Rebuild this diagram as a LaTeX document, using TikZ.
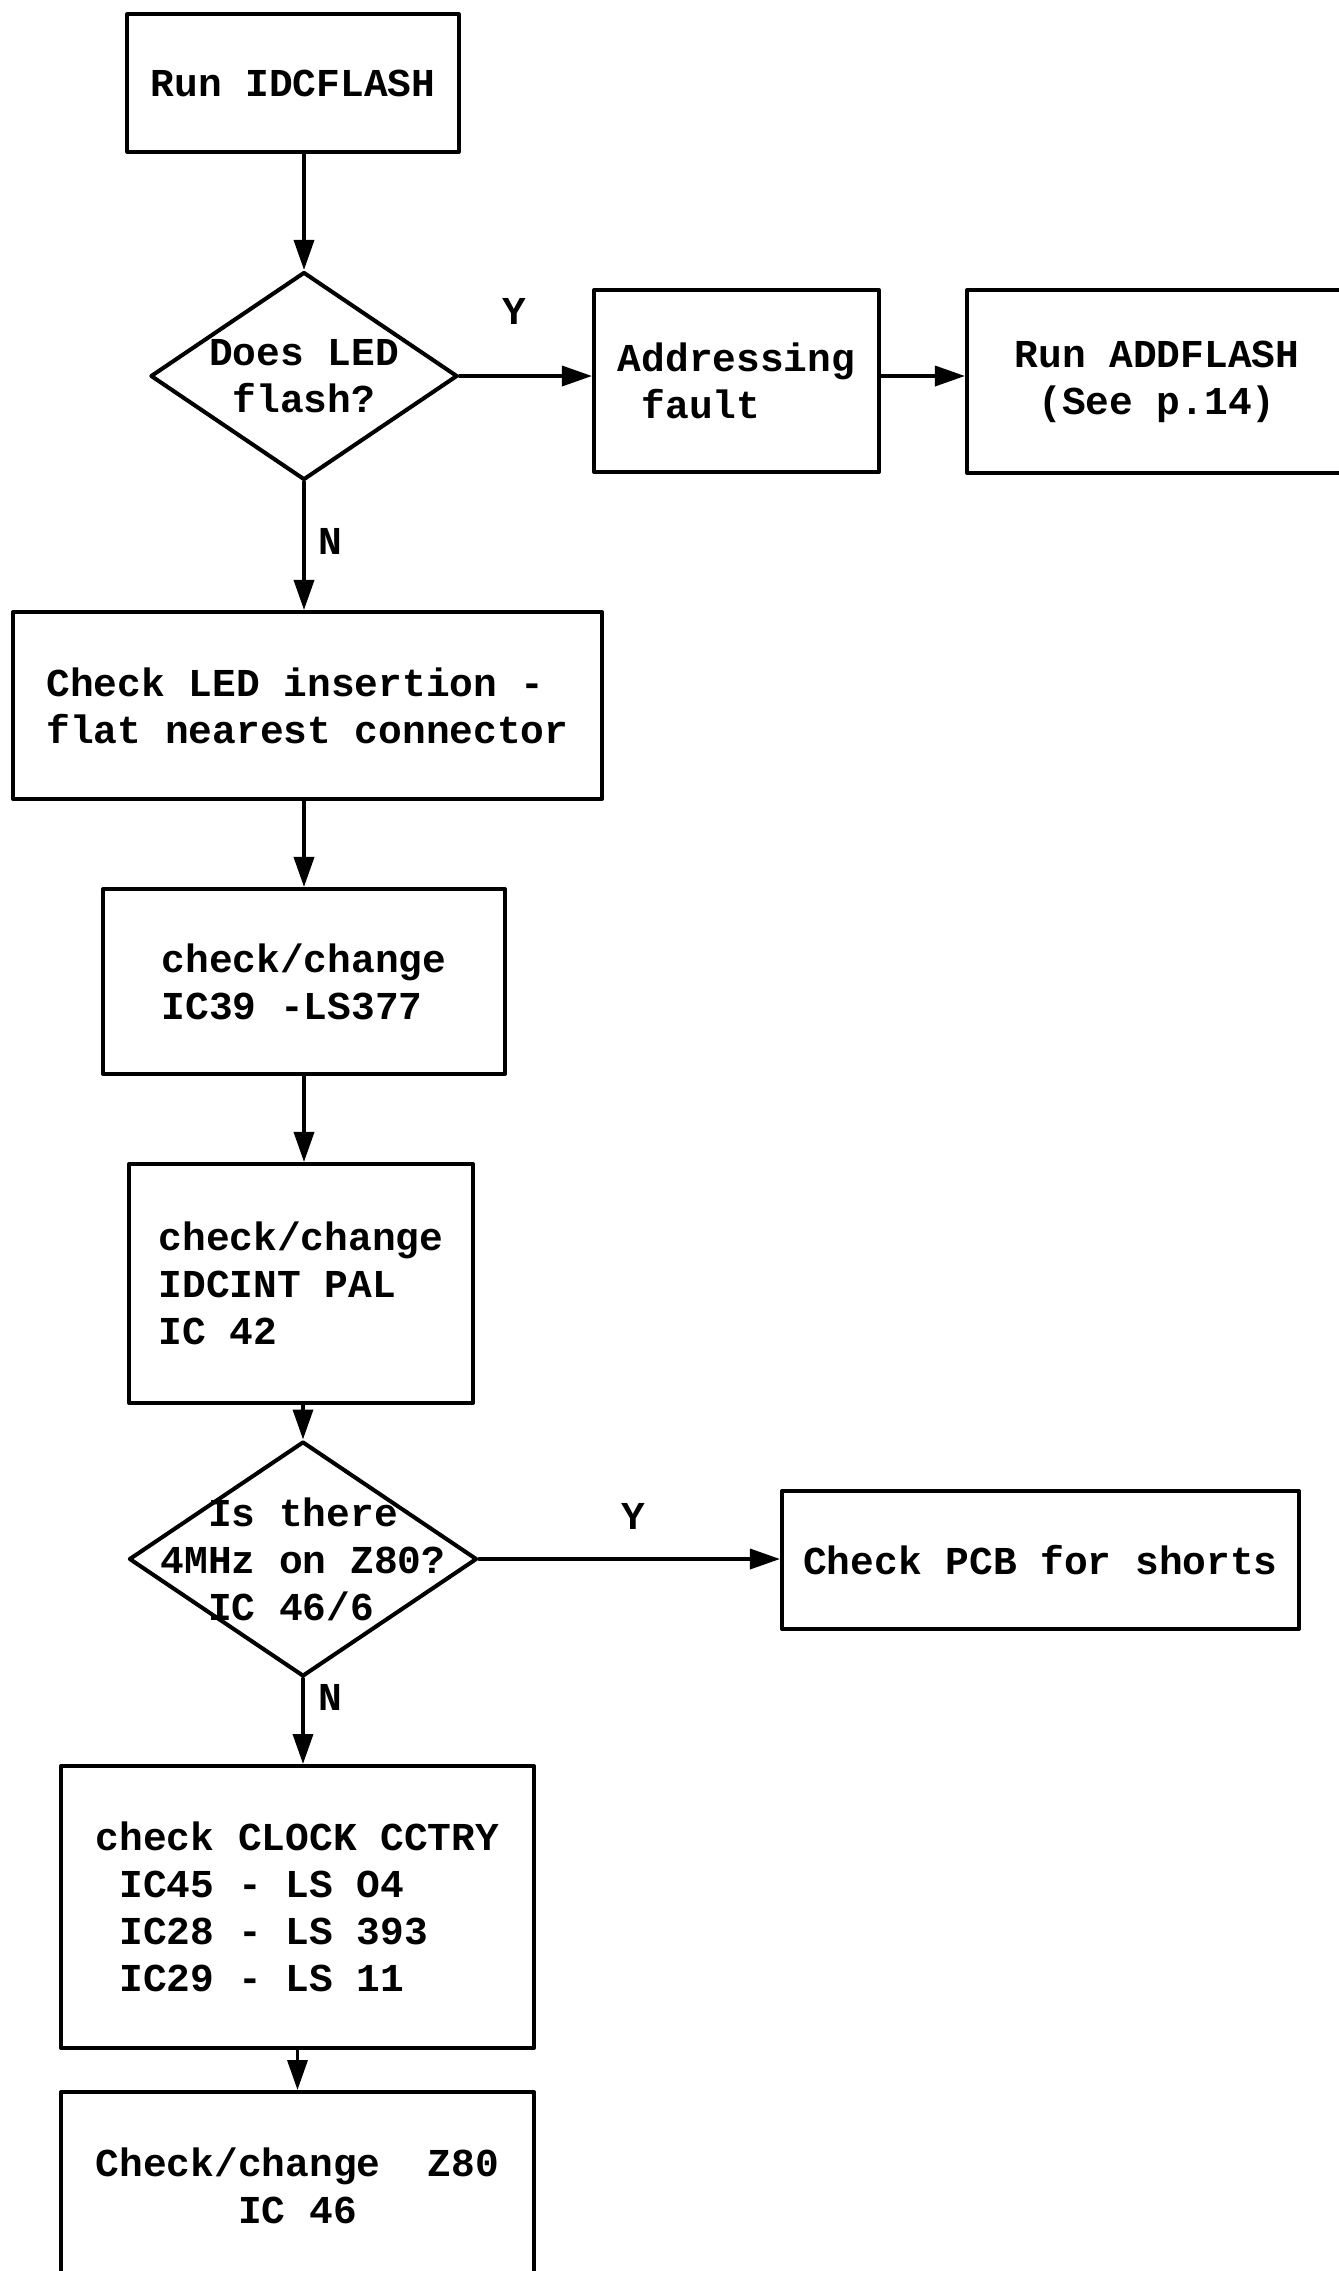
\documentclass[tikz,border=0pt]{standalone}
\usepackage{fontspec}
\setmonofont{Liberation Mono}
\usetikzlibrary{shapes.geometric,arrows.meta}

\begin{document}
\begin{tikzpicture}
 [line cap=round,line join=round,x=1cm,y=1cm,
 font={\ttfamily\bfseries\fontsize{22.5}{26.8}\selectfont},
 box/.style={draw,line width=2.3pt,inner sep=0pt,align=left},
 query/.style={draw,diamond,aspect=1.48,line width=2.3pt,inner sep=-0.8cm,align=left},
 flow/.style={line width=2pt,-{Triangle[length=0.6cm,width=0.4cm]}},
 answer/.style={inner sep=0pt}]
\useasboundingbox (0,0) rectangle (26.78,-45.42);

\node[box,minimum width=6.63cm,minimum height=2.75cm] (run) at (5.86,-1.66) {Run IDCFLASH};
\node[query,minimum width=6.14cm,minimum height=4.16cm] (led) at (6.08,-7.52) {Does LED\\~flash?};
\node[box,minimum width=5.70cm,minimum height=3.64cm] (fault) at (14.73,-7.62) {Addressing\\~fault};
\node[box,minimum width=7.60cm,minimum height=3.66cm,align=center] (addflash) at (23.14,-7.63) {Run ADDFLASH\\(See p.14)};

\node[answer] (yes1) at (10.28,-6.22) {Y};
\node[answer] (no1) at (6.60,-10.83) {N};

\node[box,minimum width=11.78cm,minimum height=3.74cm] (insert) at (6.15,-14.11) {Check LED insertion -\\flat nearest connector};
\node[box,minimum width=8.04cm,minimum height=3.70cm] (latch) at (6.08,-19.63) {check/change\\IC39 -LS377};
\node[box,minimum width=6.88cm,minimum height=4.78cm] (pal) at (6.02,-25.67) {check/change\\IDCINT PAL\\IC 42};

\node[query,minimum width=6.96cm,minimum height=4.70cm] (clk) at (6.06,-31.18) {~~Is there\\4MHz on Z80?\\~~IC 46/6};
\node[box,minimum width=10.34cm,minimum height=2.76cm] (shorts) at (20.81,-31.2) {Check PCB for shorts};

\node[answer] (yes2) at (12.66,-30.32) {Y};
\node[answer] (no2) at (6.60,-33.94) {N};

\node[box,minimum width=9.46cm,minimum height=5.64cm] (cctry) at (5.95,-38.14) {check CLOCK CCTRY\\~IC45 - LS O4\\~IC28 - LS 393\\~IC29 - LS 11};
\node[box,minimum width=9.46cm,minimum height=3.76cm,align=center] (cpu) at (5.95,-43.72) {Check/change~~Z80\\IC 46};

\draw[flow] (run.south -| led.north) -- (led.north);
\draw[flow] (led.east) -- (led.east -| fault.west);
\draw[flow] (led.east -| fault.east) -- (led.east -| addflash.west);
\draw[flow] (led.south) -- (led.south |- insert.north);
\draw[flow] (insert.south -| latch.north) -- (latch.north);
\draw[flow] (latch.south) -- (latch.south |- pal.north);
\draw[flow] (pal.south -| clk.north) -- (clk.north);
\draw[flow] (clk.east) -- (clk.east -| shorts.west);
\draw[flow] (clk.south) -- (clk.south |- cctry.north);
\draw[flow] (cctry.south) -- (cpu.north);

\end{tikzpicture}
\end{document}
